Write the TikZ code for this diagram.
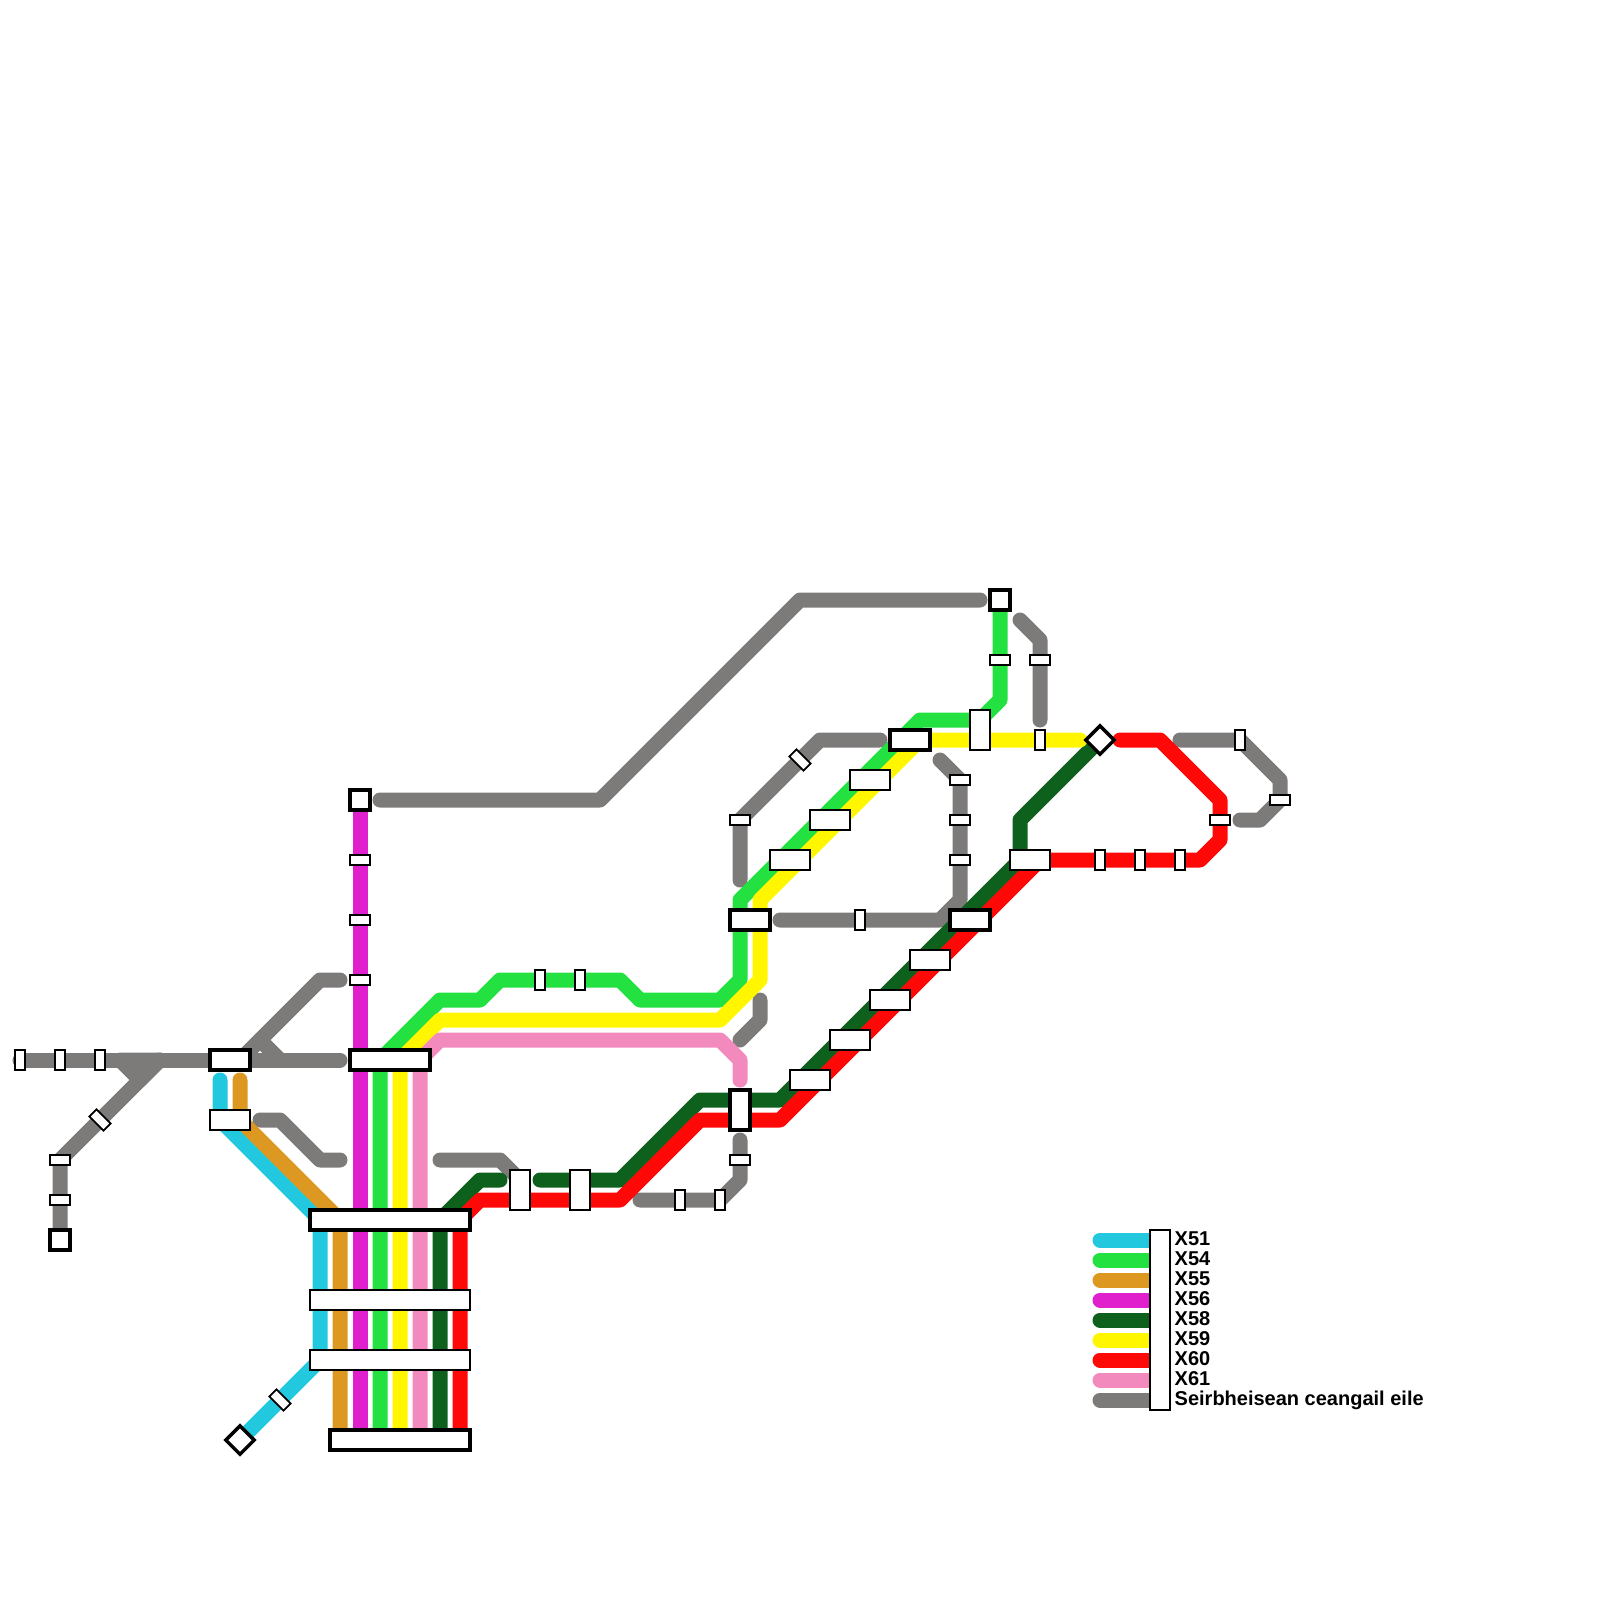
\documentclass[tikz,border=0pt]{standalone}
\usepackage{fontspec}
\setmainfont{Liberation Sans}
\usepackage{xcolor}
\definecolor{cXV}{HTML}{22C8DE}
\definecolor{cXIV}{HTML}{22E140}
\definecolor{cXO}{HTML}{DC9820}
\definecolor{cXM}{HTML}{DF20CC}
\definecolor{cXD}{HTML}{0E611C}
\definecolor{cXY}{HTML}{FFF600}
\definecolor{cXR}{HTML}{FF0808}
\definecolor{cXP}{HTML}{F38ABE}
\definecolor{cXG}{HTML}{7D7A7A}
\pgfdeclarelayer{lineas}
\pgfsetlayers{lineas,main}
\tikzset{
  ruta/.style={line width=0.15cm,line cap=round,line join=round},
  stop/.style={rectangle,draw=black,fill=white,line width=0.018cm,inner sep=0pt,outer sep=0pt},
  stopk/.style={stop,line width=0.034cm},
  ancho/.style={minimum width=#1cm,minimum height=0.2cm},
  alto/.style={minimum width=0.2cm,minimum height=#1cm},
  sh/.style={stop,minimum width=0.2cm,minimum height=0.1cm},
  sv/.style={stop,minimum width=0.1cm,minimum height=0.2cm},
  etq/.style={anchor=base west,inner sep=0pt,font=\fontsize{5.69}{6}\selectfont\bfseries}
}
\begin{document}
\begin{tikzpicture}[x=0.2cm,y=-0.2cm]
\useasboundingbox (0,0) rectangle (80,80);
% estaciones grandes
\node[stopk,ancho=0.4] (sA) at (11.5,53) {};
\node[stopk,ancho=0.8] (sB) at (19.5,53) {};
\node[stopk,ancho=1.6] (sC) at (19.5,61) {};
\node[stopk,ancho=1.4] (sD) at (20,72) {};
\node[stopk,ancho=0.4] (sE) at (37.5,46) {};
\node[stopk,ancho=0.4] (sF) at (45.5,37) {};
\node[stopk,ancho=0.4] (sG) at (48.5,46) {};
\node[stopk,alto=0.4] (sH) at (37,55.5) {};
\foreach \n/\x/\y in {mag/18/40,top/50/30,oeste/3/62}{
  \node[stopk,ancho=0.2] (t\n) at (\x,\y) {};}
\node[stopk,ancho=0.2,rotate=45] (dsur) at (12,72) {};
\node[stopk,ancho=0.2,rotate=45] (dest) at (55,37) {};
% estaciones medianas
\foreach \x/\y [count=\i] in {11.5/56,39.5/43,41.5/41,43.5/39,40.5/54,42.5/52,44.5/50,46.5/48,51.5/43}{
  \node[stop,ancho=0.4] (m\i) at (\x,\y) {};}
\node[stop,ancho=1.6] (mC) at (19.5,65) {};
\node[stop,ancho=1.6] (mD) at (19.5,68) {};
\foreach \x/\y [count=\i] in {26/59.5,29/59.5,49/36.5}{
  \node[stop,alto=0.4] (n\i) at (\x,\y) {};}
% paradas pequenas
\foreach \x/\y [count=\i] in {18/43,18/46,18/49,3/58,3/60,37/41,48/39,48/41,48/43,50/33,52/33,37/58,61/41,64/40}{
  \node[sh] (h\i) at (\x,\y) {};}
\foreach \x/\y [count=\i] in {1/53,3/53,5/53,27/49,29/49,34/60,36/60,43/46,52/37,55/43,57/43,59/43,62/37}{
  \node[sv] (v\i) at (\x,\y) {};}
\foreach \x/\y [count=\i] in {5/56,14/70,40/38}{
  \node[sv,rotate=45] (r\i) at (\x,\y) {};}
\begin{pgfonlayer}{lineas}
% servicios grises
\draw[ruta,cXG] (1,53)--(17,53);
\fill[ruta,draw,cXG] (6,53)--(7,54)--(8,53)--cycle;
\draw[ruta,cXG] (toeste.center)--(3,58)--(8,53);
\draw[ruta,cXG] (17,49)--(16,49)--(13,52)--(14,53);
\draw[ruta,cXG] (12,53)--(13,52);
\draw[ruta,cXG] (13,56)--(14,56)--(16,58)--(17,58);
\draw[ruta,cXG] (19,40)--(30,40)--(40,30)--(49,30);
\draw[ruta,cXG] (22,58)--(25,58)--(26,59);
\draw[ruta,cXG] (32,60)--(36,60)--(37,59)--(37,57);
\draw[ruta,cXG] (38,50)--(38,51)--(37,52);
\draw[ruta,cXG] (37,44)--(37,41)--(41,37)--(44,37);
\draw[ruta,cXG] (39,46)--(47,46)--(48,45)--(48,39)--(47,38);
\draw[ruta,cXG] (51,31)--(52,32)--(52,36);
\draw[ruta,cXG] (59,37)--(62,37)--(64,39)--(64,40)--(63,41)--(62,41);
% lineas X
\draw[ruta,cXV] (11,54)--(11,56)--(16,61)--(16,68)--(dsur.center);
\draw[ruta,cXIV] (19,72)--(19,53)--(22,50)--(24,50)--(25,49)--(31,49)--(32,50)--(36,50)--(37,49)--(37,45)--(46,36)--(49,36)--(50,35)--(ttop.center);
\draw[ruta,cXO] (12,54)--(12,56)--(17,61)--(17,72);
\draw[ruta,cXM] (tmag.center)--(18,72);
\draw[ruta,cXD] (22,72)--(22,61)--(24,59)--(25,59);
\draw[ruta,cXD] (27,59)--(31,59)--(35,55)--(39,55)--(51,43)--(51,41)--(dest.center);
\draw[ruta,cXY] (20,72)--(20,53)--(22,51)--(36,51)--(38,49)--(38,45)--(46,37)--(54,37);
\draw[ruta,cXR] (23,72)--(23,61)--(24,60)--(31,60)--(35,56)--(39,56)--(52,43)--(60,43)--(61,42)--(61,40)--(58,37)--(56,37);
\draw[ruta,cXP] (21,72)--(21,53)--(22,52)--(36,52)--(37,53)--(37,54);
\end{pgfonlayer}
% leyenda
\node[stop,alto=1.8] (ley) at (58,66) {};
\foreach \y/\c/\t in {62/cXV/X51,63/cXIV/X54,64/cXO/X55,65/cXM/X56,66/cXD/X58,67/cXY/X59,68/cXR/X60,69/cXP/X61,70/cXG/Seirbheisean ceangail eile}{
  \begin{pgfonlayer}{lineas}
  \draw[ruta,\c] (55,\y)--(58,\y);
  \end{pgfonlayer}
  \node[etq] (e\y) at (58.7,\y+0.25) {\t};
}
\end{tikzpicture}
\end{document}
